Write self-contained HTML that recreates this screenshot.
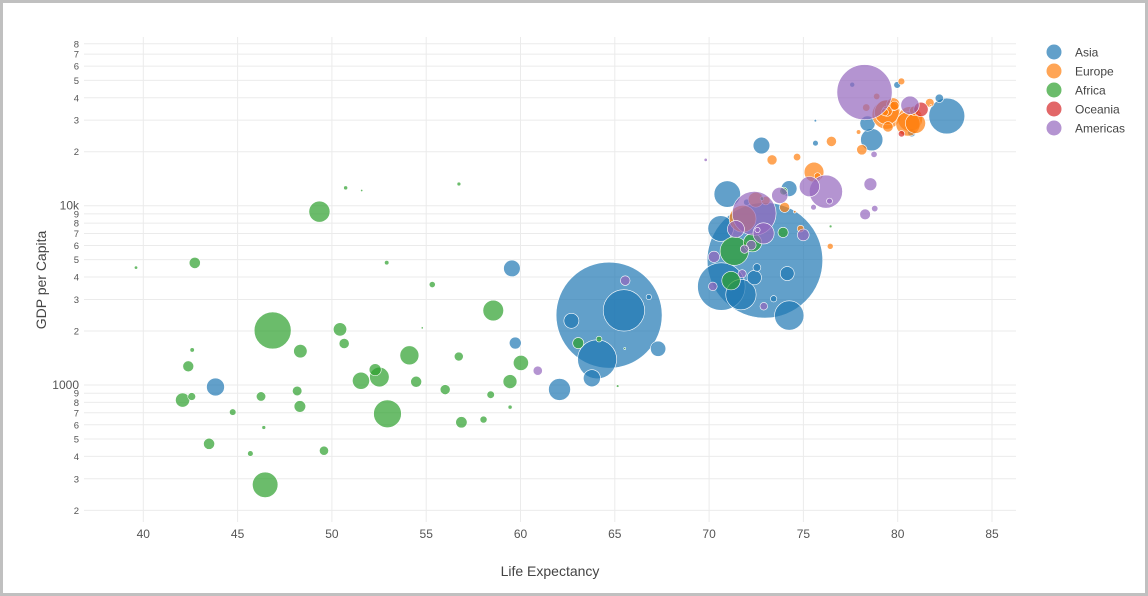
<!DOCTYPE html>
<html><head><meta charset="utf-8">
<style>
html,body{margin:0;padding:0;background:#fff;}
#frame{position:absolute;left:0;top:0;width:1142px;height:590px;border:3px solid #c0c0c0;border-right-width:3px;background:#fff;}
svg{position:absolute;left:0;top:0;}
text{font-family:"Liberation Sans",sans-serif;}
</style></head>
<body>
<div id="frame"></div>
<svg id="chart" width="1148" height="596">
<g id="grid"></g>
<g id="ticks"></g>
<g id="marks"></g>
<g id="legend"></g>
<text x="550" y="576" text-anchor="middle" font-size="14" fill="#444">Life Expectancy</text>
<text transform="translate(46,280) rotate(-90)" text-anchor="middle" font-size="14" fill="#444">GDP per Capita</text>
</svg>
<script>
const continents=["Asia","Europe","Africa","Oceania","Americas"];
const colors=["#1f77b4","#ff7f0e","#2ca02c","#d62728","#9467bd"];
const xTicks=[40,45,50,55,60,65,70,75,80,85];
const asiaLife=[43.828,75.635,64.062,59.723,72.961,82.208,64.698,70.65,70.964,59.545,80.745,82.603,72.535,67.297,78.623,77.588,71.993,74.241,66.803,62.069,63.785,75.64,65.483,71.688,72.777,79.972,72.396,74.143,78.4,70.616,74.249,73.422,62.698];
const asiaGdp=[974.58,29796,1391.25,1713.78,4959.11,39724.98,2452.21,3540.65,11605.7,4471.06,25523.28,31656.07,4519.46,1593.07,23348.14,47306.99,10461.06,12451.66,3095.77,944,1091.36,22316.19,2605.95,3190.48,21654.83,47143.18,3970.1,4184.55,28718.28,7458.4,2441.58,3025.35,2280.77];
const asiaPop=[31.89,0.708,150.4,14.13,1318.7,6.98,1110.4,223.5,69.45,27.5,6.43,127.5,6.05,23.3,49.04,2.5,3.92,24.82,2.87,47.76,28.9,3.2,169.3,91.08,27.6,4.55,20.38,19.31,23.17,65.07,85.26,4.02,22.21];
const europeLife=[76.423,79.829,79.441,74.852,73.005,75.748,76.486,78.332,79.313,80.657,79.406,79.483,73.338,81.757,78.885,80.546,74.543,79.762,80.196,75.563,78.098,72.476,74.002,74.663,77.926,80.941,80.884,81.701,71.777,79.425];
const europeGdp=[5937.03,36126.49,33692.6,7446.3,10680.79,14619.22,22833.31,35278.42,33207.08,30470.02,32170.37,27538.41,18008.94,36180.79,40676,28569.72,9253.9,36797.93,49357.19,15389.92,20509.65,10808.48,9786.53,18678.31,25768.26,28821.06,33859.75,37506.42,8458.28,33203.26];
const europePop=[3.6,8.2,10.39,4.55,7.32,4.49,10.23,5.47,5.24,61.08,82.4,10.71,9.96,0.301,4.11,58.15,0.685,16.57,4.63,38.52,10.64,22.28,10.15,5.45,2.01,40.45,9.03,7.55,71.16,60.78];
const africaLife=[72.301,42.731,56.728,50.728,52.295,49.58,50.43,44.741,50.651,65.152,46.462,55.322,48.328,54.791,71.338,51.579,58.04,52.947,56.735,59.448,60.022,56.007,46.388,54.11,42.592,45.678,73.952,59.443,48.303,54.467,64.164,72.801,71.164,42.082,52.906,56.867,46.859,76.442,46.242,65.528,63.062,42.568,48.159,49.339,58.556,39.613,52.517,58.42,73.923,51.542,42.384,43.487];
const africaGdp=[6223.37,4797.23,1441.28,12569.85,1217.03,430.07,2042.1,706.02,1704.06,986.15,277.55,3632.56,1544.75,2082.48,5581.18,12154.09,641.37,690.81,13206.48,752.75,1327.61,942.65,579.23,1463.25,1569.33,414.51,12057.5,1044.77,759.35,1042.58,1803.15,10956.99,3820.18,823.69,4811.06,619.68,2013.98,7670.12,863.09,1598.44,1712.47,862.54,926.14,9269.66,2602.39,4513.48,1107.48,882.97,7092.92,1056.38,1271.21,469.71];
const africaPop=[33.33,12.42,8.08,1.64,14.33,8.39,17.7,4.37,10.24,0.71,64.6,3.8,18.01,0.496,80.26,0.551,4.91,76.51,1.45,1.69,22.87,9.95,1.47,35.61,2.01,3.19,6.04,19.17,13.33,12.03,3.27,1.25,33.76,19.95,2.06,12.89,135.03,0.798,8.86,0.199,12.27,6.14,9.12,43.99,42.29,1.13,38.14,5.7,10.28,29.17,11.75,12.31];
const oceaniaLife=[81.235,80.204];
const oceaniaGdp=[34435.37,25185.01];
const oceaniaPop=[20.43,4.12];
const americasLife=[75.32,65.554,72.39,80.653,78.553,72.889,78.782,78.273,72.235,74.994,71.878,70.259,60.916,70.198,72.567,76.195,72.899,75.537,71.752,71.421,78.746,69.819,78.242,76.384,73.747];
const americasGdp=[12779.38,3822.14,9065.8,36319.24,13171.64,7006.58,9645.06,8948.1,6025.37,6873.26,5728.35,5186.05,1201.64,3548.33,7320.88,11977.57,2749.32,9809.19,4172.84,7408.91,19328.71,18008.51,42951.65,10611.46,11415.81];
const americasPop=[40.3,9.12,190.01,33.39,16.28,44.23,4.13,11.42,9.32,13.76,6.94,12.57,8.5,7.48,2.78,108.7,5.68,3.24,6.67,28.67,3.94,1.06,301.14,3.45,26.08];

const NS="http://www.w3.org/2000/svg";
const L=84,R=1016,T=37,B=522;
function xs(v){return 143.3+(v-40)*18.86;}
function ys(v){return 385-179.3*(Math.log10(v)-3);}
function rs(p){return Math.max(1,1.59*Math.sqrt(p*1e6)/1000);}
function mk(tag,attrs,parent){const e=document.createElementNS(NS,tag);for(const k in attrs)e.setAttribute(k,attrs[k]);parent.appendChild(e);return e;}
const grid=document.getElementById('grid'),ticks=document.getElementById('ticks'),marks=document.getElementById('marks'),legend=document.getElementById('legend');
xTicks.forEach(v=>{
  const l=mk('line',{x1:xs(v),x2:xs(v),y1:T,y2:B,stroke:'#ebebeb','stroke-width':1},grid);
  
  
  const t=mk('text',{x:xs(v),y:538,'text-anchor':'middle','font-size':12,fill:'#555'},ticks);
  t.textContent=v;
  
  
});
[100,1000,10000].forEach(d=>{
  for(let m=1;m<=9;m++){
    const v=d*m;const y=ys(v);
    if(y<T-1||y>B)continue;
    const l=mk('line',{x1:L,x2:R,y1:y,y2:y,stroke:'#ebebeb','stroke-width':1},grid);
    
    
    const major=m===1;
    const t=mk('text',{x:79,y:y+(major?4:3.5),'text-anchor':'end','font-size':major?12:9.5,fill:'#555'},ticks);
    t.textContent=major?(v===10000?'10k':String(v)):String(m);
    
    
  }
});
const series=[[asiaLife,asiaGdp,asiaPop],[europeLife,europeGdp,europePop],[africaLife,africaGdp,africaPop],[oceaniaLife,oceaniaGdp,oceaniaPop],[americasLife,americasGdp,americasPop]];
series.forEach((s,i)=>{
  const g=mk('g',{},marks);
  
  
  const idx=s[0].map((_,k)=>k).sort((a,b)=>s[2][b]-s[2][a]);
  idx.forEach(k=>{
    const c=mk('circle',{cx:xs(s[0][k]),cy:ys(s[1][k]),r:rs(s[2][k]),fill:colors[i],'fill-opacity':0.7,stroke:'#fff','stroke-width':0.6},g);
    
    
  });
});
const legOrder=[0,1,2,3,4];
legOrder.forEach((i,j)=>{
  const y=52+j*19;
  const c=mk('circle',{cx:1054,cy:y,r:7.5,fill:colors[i],'fill-opacity':0.7},legend);
  
  
  const t=mk('text',{x:1075,y:y+4.5,'font-size':12,fill:'#444'},legend);
  t.textContent=continents[i];
  
  
});
</script>
</body></html>
